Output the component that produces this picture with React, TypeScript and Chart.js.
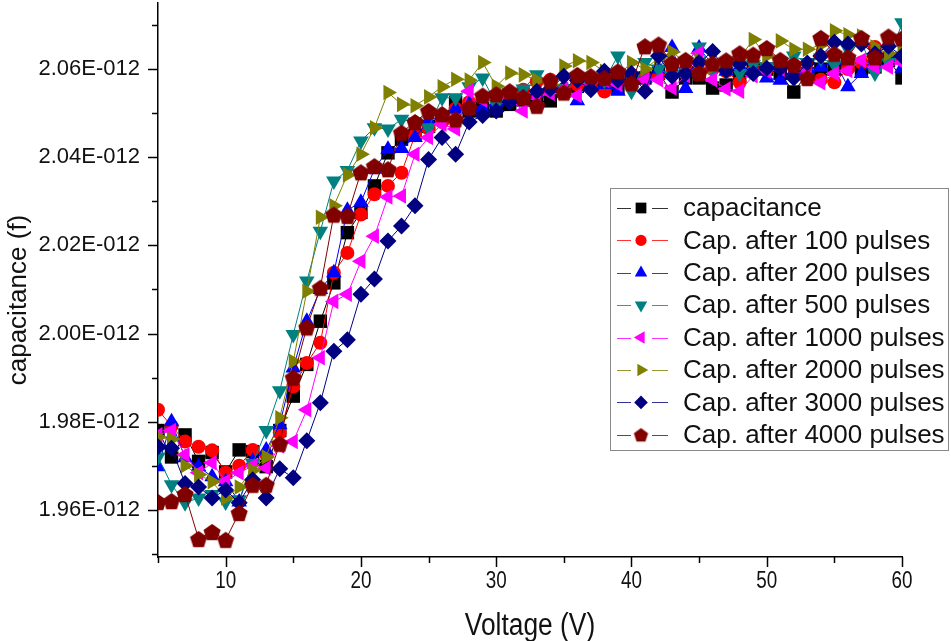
import React, { useEffect, useRef } from 'react';
import { Chart, registerables } from 'chart.js';
import { drawPoint } from 'chart.js/helpers';

Chart.register(...registerables);

// Voltage (V)
const voltage = [
  5, 6, 7, 8, 9, 10, 11, 12, 13, 14, 15, 16, 17, 18, 19, 20, 21, 22, 23, 24, 25, 26, 27, 28, 29, 30, 31, 32,
  33, 34, 35, 36, 37, 38, 39, 40, 41, 42, 43, 44, 45, 46, 47, 48, 49, 50, 51, 52, 53, 54, 55, 56, 57, 58, 59, 60,
];

// capacitance values, in units of 1E-012 f
const capacitance = [
  1.978, 1.972, 1.977, 1.971, 1.973, 1.9686, 1.9736, 1.9732, 1.9698, 1.978, 1.9858, 1.993, 2.0028, 2.0115,
  2.0229, 2.0275, 2.0335, 2.041, 2.0441, 2.045, 2.047, 2.049, 2.0524, 2.0505, 2.051, 2.0505, 2.052, 2.053,
  2.0525, 2.0528, 2.055, 2.0561, 2.0565, 2.056, 2.0557, 2.0575, 2.058, 2.059, 2.0548, 2.058, 2.058, 2.0557,
  2.0564, 2.0585, 2.06, 2.06, 2.059, 2.0548, 2.059, 2.06, 2.06, 2.061, 2.06, 2.0605, 2.062, 2.058,
];
const cap100 = [
  1.9827, 1.979, 1.9755, 1.9743, 1.9735, 1.9684, 1.97, 1.9736, 1.9725, 1.9775, 1.988, 1.9933, 1.9979, 2.0138,
  2.0183, 2.027, 2.0316, 2.0335, 2.0365, 2.045, 2.0465, 2.048, 2.051, 2.0525, 2.0535, 2.054, 2.0545, 2.0553,
  2.0572, 2.0576, 2.0555, 2.0565, 2.057, 2.0549, 2.0575, 2.0565, 2.058, 2.0585, 2.059, 2.0598, 2.0595, 2.06,
  2.0595, 2.057, 2.0595, 2.06, 2.0605, 2.061, 2.0595, 2.0576, 2.057, 2.06, 2.0615, 2.065, 2.063, 2.0625,
];
const cap200 = [
  1.9698, 1.98, 1.9718, 1.9698, 1.9675, 1.9664, 1.9618, 1.971, 1.9736, 1.9793, 1.9922, 2.0028, 2.01, 2.0138,
  2.028, 2.0298, 2.0373, 2.0418, 2.042, 2.0445, 2.0483, 2.0495, 2.051, 2.052, 2.0512, 2.0525, 2.053, 2.054,
  2.0545, 2.0555, 2.056, 2.0528, 2.058, 2.0565, 2.055, 2.0575, 2.058, 2.06, 2.0649, 2.0556, 2.0648, 2.061,
  2.0595, 2.0605, 2.06, 2.058, 2.0575, 2.0595, 2.06, 2.0605, 2.062, 2.056, 2.059, 2.062, 2.0635, 2.0602,
];
const cap500 = [
  1.972, 1.9657, 1.9616, 1.9627, 1.9635, 1.9618, 1.9623, 1.9705, 1.978, 1.987, 1.9998, 2.0119, 2.0232, 2.0346,
  2.037, 2.0437, 2.0467, 2.0464, 2.0486, 2.048, 2.0467, 2.0535, 2.0535, 2.056, 2.058, 2.052, 2.0545, 2.0555,
  2.0587, 2.057, 2.0556, 2.0575, 2.0565, 2.0575, 2.063, 2.055, 2.0615, 2.06, 2.0585, 2.061, 2.065, 2.0595,
  2.06, 2.059, 2.061, 2.0605, 2.0615, 2.063, 2.0615, 2.0625, 2.061, 2.0645, 2.066, 2.0591, 2.0615, 2.0705,
];
const cap1000 = [
  1.977, 1.978, 1.9725, 1.9684, 1.9707, 1.9665, 1.9684, 1.97, 1.9695, 1.9745, 1.9755, 1.9827, 1.9945, 2.0073,
  2.0089, 2.0164, 2.0221, 2.031, 2.0312, 2.0407, 2.0445, 2.0475, 2.0464, 2.055, 2.053, 2.0545, 2.0535, 2.0505,
  2.0535, 2.0545, 2.0555, 2.054, 2.0565, 2.0575, 2.0565, 2.057, 2.0576, 2.0576, 2.0557, 2.0585, 2.0636, 2.0576,
  2.0555, 2.055, 2.0585, 2.0595, 2.06, 2.0605, 2.0595, 2.0569, 2.059, 2.0597, 2.062, 2.0605, 2.0605, 2.0615,
];
const cap2000 = [
  1.9765, 1.976, 1.97, 1.968, 1.9664, 1.9627, 1.9652, 1.969, 1.972, 1.9809, 1.9937, 2.0096, 2.0264, 2.029,
  2.036, 2.0407, 2.0467, 2.0547, 2.052, 2.0517, 2.0537, 2.056, 2.0577, 2.0575, 2.0615, 2.0561, 2.0591, 2.0587,
  2.0575, 2.0565, 2.0607, 2.0619, 2.0615, 2.0595, 2.0585, 2.0615, 2.06, 2.0625, 2.0639, 2.0615, 2.062, 2.0605,
  2.061, 2.0625, 2.0667, 2.063, 2.0664, 2.0645, 2.0645, 2.0655, 2.0687, 2.0678, 2.0675, 2.065, 2.0635, 2.064,
];
const cap3000 = [
  1.9743, 1.974, 1.966, 1.9652, 1.9627, 1.9645, 1.9616, 1.9668, 1.9627, 1.9693, 1.9673, 1.9757, 1.9843, 1.996,
  1.9986, 2.0089, 2.0124, 2.021, 2.0244, 2.029, 2.0395, 2.0445, 2.0407, 2.048, 2.0495, 2.0505, 2.0525, 2.0535,
  2.055, 2.0555, 2.0584, 2.0575, 2.0553, 2.0595, 2.0575, 2.059, 2.055, 2.063, 2.0584, 2.059, 2.0615, 2.064,
  2.0597, 2.0612, 2.059, 2.0602, 2.0602, 2.058, 2.0614, 2.063, 2.0661, 2.0657, 2.0657, 2.0635, 2.0652, 2.063,
];
const cap4000 = [
  1.9618, 1.962, 1.9636, 1.9534, 1.955, 1.9532, 1.9593, 1.9657, 1.9657, 1.975, 1.99, 2.0014, 2.0104, 2.027,
  2.0267, 2.0366, 2.038, 2.0373, 2.0456, 2.048, 2.0505, 2.0498, 2.0486, 2.0513, 2.054, 2.0543, 2.055, 2.0536,
  2.0517, 2.0574, 2.0547, 2.0587, 2.0584, 2.058, 2.0595, 2.0568, 2.0652, 2.0656, 2.0614, 2.0621, 2.0591, 2.0613,
  2.062, 2.0636, 2.0633, 2.0648, 2.0621, 2.061, 2.058, 2.0671, 2.0635, 2.0627, 2.0671, 2.0627, 2.0674, 2.067,
];

const seriesLabels = [
  'capacitance',
  'Cap. after 100 pulses',
  'Cap. after 200 pulses',
  'Cap. after 500 pulses',
  'Cap. after 1000 pulses',
  'Cap. after 2000 pulses',
  'Cap. after 3000 pulses',
  'Cap. after 4000 pulses',
];
const seriesValues = [capacitance, cap100, cap200, cap500, cap1000, cap2000, cap3000, cap4000];

const xMajorTicks = [10, 20, 30, 40, 50, 60];
const xMinorTicks = [5, 15, 25, 35, 45, 55];
const yMajorTicks = [1.96, 1.98, 2.0, 2.02, 2.04, 2.06];
const yMinorTicks = [1.95, 1.97, 1.99, 2.01, 2.03, 2.05, 2.07];

const xTitle = 'Voltage (V)';
const yTitle = 'capacitance (f)';

const colors = ['#000000', '#FF0000', '#0000FF', '#008080', '#FF00FF', '#808000', '#000080', '#800000'];

function makePentagon(color: string, r: number): HTMLCanvasElement {
  const s = Math.ceil(r * 2 + 2);
  const c = document.createElement('canvas');
  c.width = s;
  c.height = s;
  const ctx = c.getContext('2d')!;
  ctx.fillStyle = color;
  ctx.beginPath();
  const cy = s / 2 + r * 0.1;
  for (let k = 0; k < 5; k++) {
    const a = -Math.PI / 2 + (k * 2 * Math.PI) / 5;
    const px = s / 2 + r * Math.cos(a);
    const py = cy + r * Math.sin(a);
    if (k === 0) ctx.moveTo(px, py);
    else ctx.lineTo(px, py);
  }
  ctx.closePath();
  ctx.fill();
  return c;
}

const isIn = (v: number, arr: number[]) => arr.some((a) => Math.abs(a - v) < 1e-6);
const SANS = '"Liberation Sans", Arial, sans-serif';

export default function App() {
  const ref = useRef<HTMLCanvasElement | null>(null);

  useEffect(() => {
    if (!ref.current) return;
    const pentagon = makePentagon(colors[7], 9);
    const pentagonSmall = makePentagon(colors[7], 7.5);
    const styles: any[] = [
      { pointStyle: 'rect', radius: 9.5, rotation: 0 },
      { pointStyle: 'circle', radius: 7, rotation: 0 },
      { pointStyle: 'triangle', radius: 9, rotation: 0 },
      { pointStyle: 'triangle', radius: 9, rotation: 180 },
      { pointStyle: 'triangle', radius: 9, rotation: 270 },
      { pointStyle: 'triangle', radius: 9, rotation: 90 },
      { pointStyle: 'rectRot', radius: 8.5, rotation: 0 },
      { pointStyle: pentagon, radius: 9, rotation: 0 },
    ];

    const datasets = seriesValues.map((vals, i) => ({
      label: seriesLabels[i],
      data: voltage.map((v, j) => ({ x: v, y: vals[j] })),
      borderColor: colors[i],
      backgroundColor: colors[i],
      pointBackgroundColor: colors[i],
      pointBorderColor: colors[i],
      pointBorderWidth: 0,
      borderWidth: 1,
      pointStyle: styles[i].pointStyle,
      pointRadius: styles[i].radius,
      pointRotation: styles[i].rotation,
      tension: 0,
      order: 7 - i,
    }));

    const decorPlugin = {
      id: 'decor',
      afterDraw(chart: any) {
        const ctx = chart.ctx;
        const area = chart.chartArea;
        const xs = chart.scales.x;
        const ys = chart.scales.y;
        ctx.save();
        ctx.strokeStyle = '#000';
        ctx.lineWidth = 1.5;
        // x ticks
        [...xMajorTicks, ...xMinorTicks].forEach((v) => {
          const px = Math.round(xs.getPixelForValue(v)) + 0.5;
          const len = isIn(v, xMajorTicks) ? 10 : 6;
          ctx.beginPath();
          ctx.moveTo(px, area.bottom);
          ctx.lineTo(px, area.bottom + len);
          ctx.stroke();
        });
        // y ticks
        [...yMajorTicks, ...yMinorTicks].forEach((v) => {
          const py = Math.round(ys.getPixelForValue(v)) + 0.5;
          const len = isIn(v, yMajorTicks) ? 10 : 6;
          ctx.beginPath();
          ctx.moveTo(area.left, py);
          ctx.lineTo(area.left - len, py);
          ctx.stroke();
        });

        // x tick labels (narrow style)
        ctx.fillStyle = '#111';
        ctx.textAlign = 'center';
        ctx.textBaseline = 'middle';
        ctx.font = '23px ' + SANS;
        xMajorTicks.forEach((v) => {
          const px = xs.getPixelForValue(v);
          ctx.save();
          ctx.translate(px, 582);
          ctx.scale(0.82, 1);
          ctx.fillText(String(v), 0, 0);
          ctx.restore();
        });

        // titles
        ctx.save();
        ctx.translate((area.left + area.right) / 2, 626);
        ctx.scale(0.85, 1);
        ctx.font = '31px ' + SANS;
        ctx.fillText(xTitle, 0, 0);
        ctx.restore();
        ctx.save();
        ctx.translate(19, 300);
        ctx.rotate(-Math.PI / 2);
        ctx.font = '26px ' + SANS;
        ctx.fillText(yTitle, 0, 0);
        ctx.restore();

        // legend
        const bx = 610.5, by = 188.5, bw = 338, bh = 262;
        ctx.fillStyle = '#fff';
        ctx.fillRect(bx, by, bw, bh);
        ctx.strokeStyle = '#888';
        ctx.lineWidth = 1;
        ctx.strokeRect(bx, by, bw, bh);
        ctx.font = '26px ' + SANS;
        ctx.textAlign = 'left';
        ctx.textBaseline = 'middle';
        datasets.forEach((ds, i) => {
          const yc = 208 + i * 32.4;
          ctx.strokeStyle = colors[i];
          ctx.globalAlpha = 0.8;
          ctx.lineWidth = 1;
          ctx.beginPath();
          ctx.moveTo(617, Math.round(yc) + 0.5);
          ctx.lineTo(631, Math.round(yc) + 0.5);
          ctx.moveTo(652, Math.round(yc) + 0.5);
          ctx.lineTo(668, Math.round(yc) + 0.5);
          ctx.stroke();
          ctx.globalAlpha = 1;
          ctx.fillStyle = colors[i];
          const st = styles[i];
          const ps = i === 7 ? pentagonSmall : st.pointStyle;
          drawPoint(ctx, { pointStyle: ps, rotation: st.rotation, radius: st.radius * 0.8, borderWidth: 0 }, 641, yc);
          ctx.fillStyle = '#111';
          ctx.fillText(ds.label, 683, yc + 1);
        });
        ctx.restore();
      },
    };

    const chart = new Chart(ref.current, {
      type: 'line',
      data: { datasets },
      options: {
        animation: false,
        responsive: false,
        devicePixelRatio: 1,
        layout: { autoPadding: false, padding: { top: 3, right: 49, left: 0, bottom: 0 } },
        plugins: { legend: { display: false }, tooltip: { enabled: false } },
        scales: {
          x: {
            type: 'linear',
            min: 5,
            max: 60,
            afterFit: (s: any) => {
              s.height = 84;
              s.paddingLeft = 0;
              s.paddingRight = 0;
            },
            afterBuildTicks: (s: any) => {
              s.ticks = xMajorTicks.map((v) => ({ value: v }));
            },
            grid: { display: false, drawTicks: false },
            border: { display: true, color: '#000', width: 1.5 },
            ticks: { display: false },
          },
          y: {
            type: 'linear',
            min: 1.9493,
            max: 2.075,
            afterFit: (s: any) => {
              s.width = 158;
              s.paddingTop = 0;
              s.paddingBottom = 0;
            },
            afterBuildTicks: (s: any) => {
              s.ticks = yMajorTicks.map((v) => ({ value: v }));
            },
            grid: { display: false, drawTicks: false },
            border: { display: true, color: '#000', width: 1.5 },
            ticks: {
              autoSkip: false,
              padding: 18,
              color: '#111',
              font: { family: SANS, size: 22 },
              callback: (v: any) => Number(v).toFixed(2) + 'E-012',
            },
          },
        },
      },
      plugins: [decorPlugin],
    });
    return () => chart.destroy();
  }, []);

  return (
    <div style={{ position: 'fixed', left: 0, top: 0, width: 951, height: 641, background: '#fff' }}>
      <canvas ref={ref} width={951} height={641} style={{ display: 'block' }} />
    </div>
  );
}
